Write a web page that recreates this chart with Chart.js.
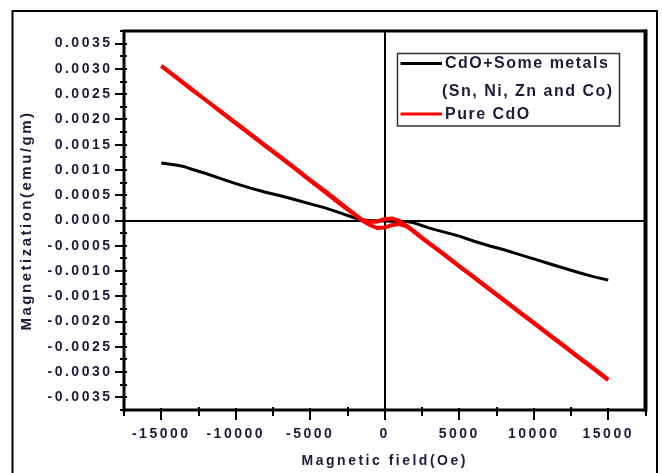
<!DOCTYPE html>
<html>
<head>
<meta charset="utf-8">
<title>M–H loops of CdO</title>
<script src="https://cdn.jsdelivr.net/npm/chart.js@4"></script>
<style>
  html, body { margin: 0; padding: 0; background: #ffffff; }
  canvas { display: block; }
</style>
</head>
<body>
<canvas id="mh" width="662" height="473"></canvas>
<script>
// Applied field (Oe) and magnetization (emu/gm) for CdO doped with Sn, Ni, Zn and Co
const fieldDoped = [-15000, -14500, -14000, -13500, -13000, -12000, -11000, -10000, -9000, -8000,
  -7000, -6000, -5000, -4000, -3000, -2000, -1500, -1000, 0, 1000, 1500, 2000, 3000, 4000,
  5000, 6000, 7000, 8000, 9000, 10000, 11000, 12000, 13000, 14000, 15000];
const momentDoped = [0.00114, 0.00112, 0.00110, 0.00107, 0.00102, 0.00093, 0.00083, 0.00073, 0.00064, 0.00056,
  0.00049, 0.00041, 0.00033, 0.00025, 0.00015, 0.00005, 0.00001, 0.00000, -0.00001, -0.00002, -0.00002, -0.00005, -0.00015, -0.00023,
  -0.00031, -0.00041, -0.00050, -0.00058, -0.00067, -0.00076, -0.00085, -0.00094, -0.00103, -0.00111, -0.00118];

// Pure CdO: descending sweep (+15 kOe -> -15 kOe) followed by the ascending sweep back
const fieldPure = [15000, 14000, 13000, 12000, 11000, 10000, 9000, 8000, 7000, 6000, 5000, 4000, 3000, 2500,
  2000, 1500, 1000, 500, 0, -500, -1000, -1500, -2000, -2500, -3000, -4000, -5000, -6000, -7000, -8000,
  -9000, -10000, -11000, -12000, -13000, -14000, -15000,
  -14000, -13000, -12000, -11000, -10000, -9000, -8000, -7000, -6000, -5000, -4000, -3000, -2500, -2000,
  -1500, -1000, -500, 0, 500, 1000, 1500, 2000, 2500, 3000, 4000, 5000, 6000, 7000, 8000, 9000, 10000,
  11000, 12000, 13000, 14000, 15000];
const momentPure = [-0.00315, -0.00292, -0.00270, -0.00247, -0.00225, -0.00202, -0.00180, -0.00157, -0.00135, -0.00112, -0.00090, -0.00067, -0.00045, -0.00034,
  -0.00022, -0.00011, -0.00001, 0.00004, 0.00003, -0.00002, -0.00003, 0.00001, 0.00012, 0.00023, 0.00035, 0.00058, 0.00080, 0.00103, 0.00126, 0.00148,
  0.00171, 0.00193, 0.00216, 0.00238, 0.00261, 0.00284, 0.00306,
  0.00283, 0.00260, 0.00238, 0.00215, 0.00192, 0.00170, 0.00147, 0.00125, 0.00102, 0.00079, 0.00056, 0.00033, 0.00022, 0.00011,
  0.00000, -0.00009, -0.00015, -0.00014, -0.00009, -0.00007, -0.00012, -0.00023, -0.00035, -0.00046, -0.00068, -0.00091, -0.00113, -0.00136, -0.00158, -0.00181, -0.00203,
  -0.00226, -0.00248, -0.00271, -0.00293, -0.00316];

const seriesLabels = [['CdO+Some metals', '(Sn, Ni, Zn and Co)'], 'Pure CdO'];
const seriesColors = ['#000000', '#ff0000'];

// Labelled (major) tick values; minor ticks fall halfway between them
const xTickLabels = [-15000, -10000, -5000, 0, 5000, 10000, 15000];
const yTickLabels = [0.0035, 0.0030, 0.0025, 0.0020, 0.0015, 0.0010, 0.0005, 0.0000,
  -0.0005, -0.0010, -0.0015, -0.0020, -0.0025, -0.0030, -0.0035];

const textColor = '#1c1c3a';
const fontFamily = '"Liberation Sans", Arial, Helvetica, sans-serif';

const toPoints = (xs, ys) => xs.map((x, i) => ({ x: x, y: ys[i] }));
const isXMajor = v => xTickLabels.includes(v);
const yLabelFor = v => yTickLabels.find(t => Math.abs(t - v) < 1e-9);

// Wide letter spacing for all axis text
const spacingPlugin = {
  id: 'letterSpacing',
  beforeUpdate(chart) { chart.ctx.letterSpacing = '2.5px'; },
  beforeDraw(chart) { chart.ctx.letterSpacing = '2.5px'; }
};

// Outer page frame
const pageFramePlugin = {
  id: 'pageFrame',
  beforeDraw(chart) {
    const ctx = chart.ctx;
    ctx.save();
    ctx.strokeStyle = '#000';
    ctx.lineWidth = 2;
    ctx.strokeRect(12.5, 11, 644.5, 600);
    ctx.restore();
  }
};

// Plot box plus tick marks on the left and bottom axes
const frameTicksPlugin = {
  id: 'frameTicks',
  afterDatasetsDraw(chart) {
    const ctx = chart.ctx, a = chart.chartArea;
    const xs = chart.scales.x, ys = chart.scales.y;
    ctx.save();
    ctx.strokeStyle = '#000';
    ctx.lineCap = 'butt';
    ctx.lineWidth = 2;
    xs.ticks.forEach(t => {
      const px = Math.round(xs.getPixelForValue(t.value));
      const major = isXMajor(t.value);
      ctx.beginPath();
      ctx.moveTo(px, a.bottom - (major ? 2 : 3));
      ctx.lineTo(px, a.bottom + (major ? 10 : 6));
      ctx.stroke();
    });
    ys.ticks.forEach(t => {
      const py = Math.round(ys.getPixelForValue(t.value));
      const major = yLabelFor(t.value) !== undefined;
      ctx.beginPath();
      ctx.moveTo(a.left - (major ? 9 : 4), py);
      ctx.lineTo(a.left + 3, py);
      ctx.stroke();
    });
    ctx.lineWidth = 3;
    ctx.strokeRect(a.left, a.top, a.right - a.left, a.bottom - a.top);
    ctx.lineWidth = 4;
    ctx.beginPath();
    ctx.moveTo(a.right, a.top - 1.5);
    ctx.lineTo(a.right, a.bottom + 1.5);
    ctx.stroke();
    ctx.restore();
  }
};

// Boxed legend in the upper right of the plot
const boxLegendPlugin = {
  id: 'boxLegend',
  afterDraw(chart) {
    const ctx = chart.ctx, a = chart.chartArea;
    const lx = a.right - 248, ly = a.top + 22.5, lw = 222, lh = 72.5;
    ctx.save();
    ctx.letterSpacing = '1.5px';
    ctx.strokeStyle = '#333';
    ctx.lineWidth = 1.5;
    ctx.strokeRect(lx, ly, lw, lh);
    ctx.font = 'bold 16px ' + fontFamily;
    ctx.fillStyle = textColor;
    ctx.textBaseline = 'middle';
    ctx.textAlign = 'left';
    const rows = [[10.5, 38], [61]];
    chart.data.datasets.forEach((ds, i) => {
      const lines = Array.isArray(ds.label) ? ds.label : [ds.label];
      const y0 = ly + rows[i][0];
      ctx.strokeStyle = ds.borderColor;
      ctx.lineWidth = 3;
      ctx.beginPath();
      ctx.moveTo(lx + 3, y0 - 0.5);
      ctx.lineTo(lx + 44.5, y0 - 0.5);
      ctx.stroke();
      lines.forEach((txt, j) => {
        const yy = ly + rows[i][j];
        ctx.fillText(txt, lx + (j === 0 ? 47.5 : 44.5), yy);
      });
    });
    ctx.restore();
  }
};

new Chart(document.getElementById('mh'), {
  type: 'scatter',
  data: {
    datasets: [
      {
        label: seriesLabels[0],
        data: toPoints(fieldDoped, momentDoped),
        borderColor: seriesColors[0],
        backgroundColor: seriesColors[0],
        borderWidth: 3,
        showLine: true,
        pointRadius: 0,
        order: 1
      },
      {
        label: seriesLabels[1],
        data: toPoints(fieldPure, momentPure),
        borderColor: seriesColors[1],
        backgroundColor: seriesColors[1],
        borderWidth: 4,
        showLine: true,
        pointRadius: 0,
        order: 0
      }
    ]
  },
  options: {
    responsive: false,
    animation: false,
    devicePixelRatio: 1,
    layout: { padding: { left: 0, top: 31, right: 16.5, bottom: 0 } },
    plugins: { legend: { display: false }, tooltip: { enabled: false } },
    scales: {
      x: {
        type: 'linear',
        position: 'bottom',
        min: -17500,
        max: 17500,
        afterFit(scale) { scale.height = 63; },
        border: { display: false },
        grid: {
          drawTicks: false,
          lineWidth: 2,
          color: c => (c.tick && c.tick.value === 0 ? '#000' : 'rgba(0,0,0,0)')
        },
        ticks: {
          stepSize: 2500,
          maxTicksLimit: 16,
          autoSkip: false,
          maxRotation: 0,
          padding: 15.6,
          color: textColor,
          font: { family: fontFamily, size: 14, weight: 'bold' },
          callback: v => (isXMajor(v) ? String(v) : '')
        },
        title: {
          display: true,
          text: 'Magnetic field(Oe)',
          color: textColor,
          font: { family: fontFamily, size: 14, weight: 'bold', lineHeight: 1.2 },
          padding: { top: 0, bottom: 3.6 }
        }
      },
      y: {
        type: 'linear',
        position: 'left',
        min: -0.00375,
        max: 0.00375,
        afterFit(scale) { scale.width = 124; },
        border: { display: false },
        grid: {
          drawTicks: false,
          lineWidth: 2,
          color: c => (c.tick && Math.abs(c.tick.value) < 1e-12 ? '#000' : 'rgba(0,0,0,0)')
        },
        ticks: {
          stepSize: 0.00025,
          maxTicksLimit: 32,
          autoSkip: false,
          padding: 11.5,
          color: textColor,
          font: { family: fontFamily, size: 14, weight: 'bold' },
          callback: v => {
            const t = yLabelFor(v);
            return t === undefined ? '' : t.toFixed(4);
          }
        },
        title: {
          display: true,
          text: 'Magnetization(emu/gm)',
          color: textColor,
          font: { family: fontFamily, size: 15, weight: 'bold', lineHeight: 1.2 },
          padding: { top: 18, bottom: 0 }
        }
      }
    }
  },
  plugins: [spacingPlugin, pageFramePlugin, frameTicksPlugin, boxLegendPlugin]
});
</script>
</body>
</html>
